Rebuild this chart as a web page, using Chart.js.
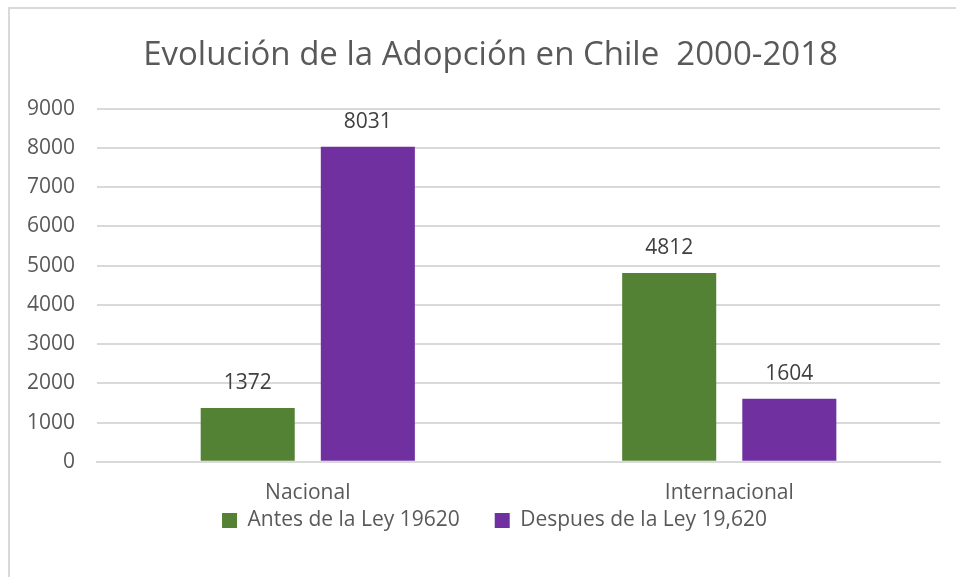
<!DOCTYPE html>
<html lang="es">
<head>
  <meta charset="UTF-8">
  <title>Evolución de la Adopción en Chile 2000-2018</title>
  <style>
    html, body {
      margin: 0;
      padding: 0;
      background: #ffffff;
      overflow: hidden;
    }
    .frame {
      position: absolute;
      left: 8px;
      top: 7px;
      width: 1000px;
      height: 700px;
      border: 2px solid #d9d9d9;
      box-sizing: border-box;
    }
    .wrap {
      position: absolute;
      left: 0;
      top: 0;
      width: 956px;
      height: 577px;
    }
  </style>
</head>
<body>
  <div class="frame"></div>
  <div class="wrap"><canvas id="chart"></canvas></div>

  <script src="https://cdn.jsdelivr.net/npm/chart.js@4.4.1/dist/chart.umd.min.js"></script>
  <script>
    const categories = ['Nacional', 'Internacional'];
    const antesLey = [1372, 4812];
    const despuesLey = [8031, 1604];
    const seriesNames = ['Antes de la Ley 19620', 'Despues de la Ley 19,620'];
    const yTicks = [0, 1000, 2000, 3000, 4000, 5000, 6000, 7000, 8000, 9000];

    const FONT = "'Open Sans', 'Noto Sans', sans-serif";
    const TEXT = '#595959';
    const LEGEND_GAP = 35;

    // draws the value above each bar
    const barLabels = {
      id: 'barLabels',
      afterDatasetsDraw(chart) {
        const ctx = chart.ctx;
        ctx.save();
        ctx.font = '21px ' + FONT;
        ctx.fillStyle = '#404040';
        ctx.textAlign = 'center';
        ctx.textBaseline = 'middle';
        chart.data.datasets.forEach((ds, i) => {
          chart.getDatasetMeta(i).data.forEach((bar, j) => {
            ctx.fillText(ds.data[j], bar.x, bar.y - 25);
          });
        });
        ctx.restore();
      }
    };

    // legend padding also sets the gap between items; pull the legend back up.
    // title and legend sit a bit right of the chart's middle in the original
    const boxNudge = {
      id: 'boxNudge',
      afterLayout(chart) {
        const lg = chart.legend;
        lg.top -= LEGEND_GAP + 7;
        lg.left += 44;
        chart.titleBlock.left += 36;
      }
    };

    new Chart(document.getElementById('chart'), {
      type: 'bar',
      data: {
        labels: categories,
        datasets: [
          { label: seriesNames[0], data: antesLey, backgroundColor: '#548235' },
          { label: seriesNames[1], data: despuesLey, backgroundColor: '#7030a0' }
        ]
      },
      options: {
        responsive: true,
        maintainAspectRatio: false,
        animation: false,
        categoryPercentage: 0.57,
        barPercentage: 0.783,
        layout: { padding: { left: 5, right: 16, top: 20, bottom: 0 } },
        plugins: {
          title: {
            display: true,
            text: 'Evolución de la Adopción en Chile  2000-2018',
            color: TEXT,
            font: { family: FONT, size: 33, weight: 'normal' },
            padding: { top: 16, bottom: 33 }
          },
          legend: {
            position: 'bottom',
            maxHeight: 60,
            labels: {
              color: TEXT,
              font: { family: FONT, size: 21 },
              boxWidth: 15,
              boxHeight: 15,
              padding: LEGEND_GAP
            }
          },
          tooltip: { enabled: false }
        },
        scales: {
          x: {
            grid: { display: false },
            border: { color: '#d9d9d9', width: 2 },
            ticks: { color: TEXT, font: { family: FONT, size: 21 }, padding: 11 }
          },
          y: {
            min: 0,
            max: 9000,
            afterBuildTicks(axis) {
              axis.ticks = yTicks.map(v => ({ value: v }));
            },
            grid: { color: '#d9d9d9', lineWidth: 2, drawTicks: false },
            border: { display: false },
            ticks: {
              color: TEXT,
              font: { family: FONT, size: 21 },
              padding: 22,
              callback: v => String(v)
            }
          }
        }
      },
      plugins: [barLabels, boxNudge]
    });
  </script>
</body>
</html>
